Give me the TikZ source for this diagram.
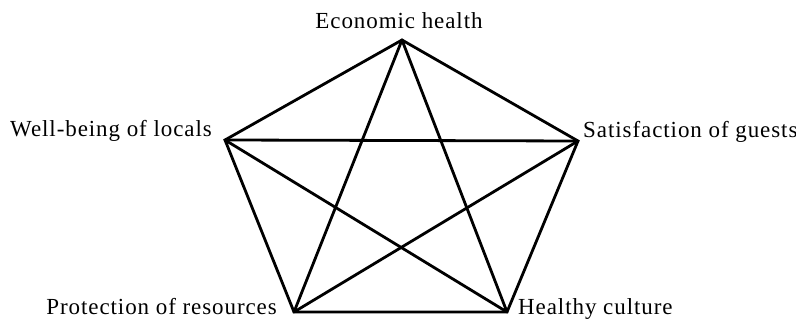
\documentclass[tikz,border=0pt]{standalone}
\usepackage{fontspec}
\setmainfont{Liberation Serif}[LetterSpace=4]
\begin{document}
\begin{tikzpicture}[x=1pt,y=-1pt,
  lbl/.style={inner sep=0pt,font=\fontsize{23}{26}\selectfont},
  edge/.style={line width=2.8pt,line cap=round,line join=miter}]
\useasboundingbox (0,0) rectangle (796,320);
\coordinate (E) at (402,40);
\coordinate (W) at (225,140);
\coordinate (S) at (578,141);
\coordinate (P) at (294,312);
\coordinate (H) at (507,312);
\draw[edge] (E) -- (W) -- (P) -- (H) -- (S) -- cycle;
\draw[edge] (E) -- (P);
\draw[edge] (E) -- (H);
\draw[edge] (W) -- (S);
\draw[edge] (W) -- (H);
\draw[edge] (S) -- (P);
\node[lbl,anchor=base] (le) at (399,29) {Economic health};
\node[lbl,anchor=base east] (lw) at (212,137) {Well-being of locals};
\node[lbl,anchor=base west] (ls) at (583,138) {Satisfaction of guests};
\node[lbl,anchor=base east] (lp) at (277,315) {Protection of resources};
\node[lbl,anchor=base west] (lh) at (518,315) {Healthy culture};
\end{tikzpicture}
\end{document}
